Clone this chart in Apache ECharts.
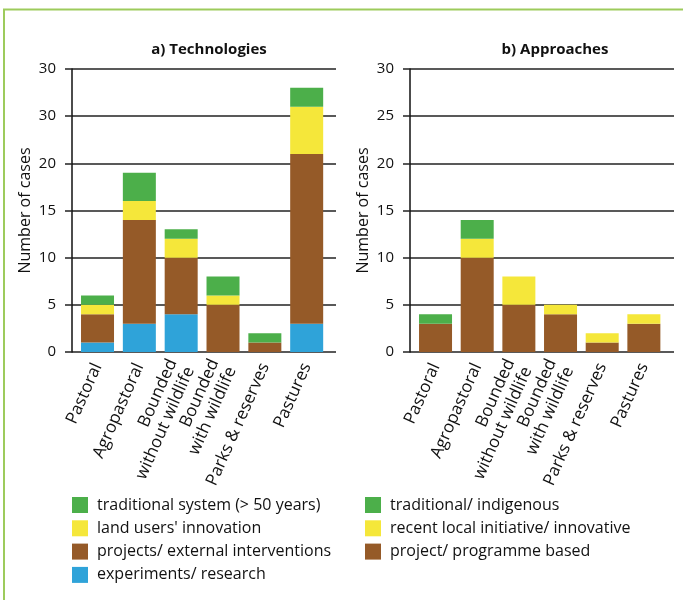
<!DOCTYPE html>
<html>
<head>
<meta charset="utf-8">
<script src="https://cdn.jsdelivr.net/npm/echarts@6/dist/echarts.min.js"></script>
<style>
  html, body { margin: 0; padding: 0; background: #fff; }
  #main { width: 683px; height: 600px; }
</style>
</head>
<body>
<div id="main"></div>
<script>
    // categories shared by both panels
    var categories = ['Pastoral', 'Agropastoral', 'Bounded\nwithout wildlife', 'Bounded\nwith wildlife', 'Parks & reserves', 'Pastures'];

    // a) Technologies - segment heights, bottom to top
    var techResearch    = [1, 3, 4, 0, 0, 3];
    var techProjects    = [3, 11, 6, 5, 1, 18];
    var techInnovation  = [1, 2, 2, 1, 0, 5];
    var techTraditional = [1, 3, 1, 2, 1, 2];

    // b) Approaches - segment heights, bottom to top
    var apprProject     = [3, 10, 5, 4, 1, 3];
    var apprInitiative  = [0, 2, 3, 1, 1, 1];
    var apprTraditional = [1, 2, 0, 0, 0, 0];

    // tick labels as printed (left panel repeats "30")
    var leftTickLabels  = ['0', '5', '10', '15', '20', '30', '30'];
    var rightTickLabels = ['0', '5', '10', '15', '20', '25', '30'];

    var GREEN = '#4caf4a', YELLOW = '#f5e73a', BROWN = '#955a28', BLUE = '#2fa3d9';
    var FONT = 'Open Sans';

    var myChart = echarts.init(document.getElementById('main'));

    function decoY(gridIndex, labels) {
        return {
            gridIndex: gridIndex,
            type: 'value',
            min: 0,
            max: 30,
            interval: 5,
            name: 'Number of cases',
            nameLocation: 'middle',
            nameGap: 39,
            nameTextStyle: {color: '#111', fontSize: 16, fontFamily: FONT},
            axisLine: {show: true, lineStyle: {color: '#111', width: 1.5}},
            axisTick: {show: true, length: 7, lineStyle: {color: '#222', width: 1.5}},
            axisLabel: {
                color: '#111', fontSize: 15, fontFamily: FONT, margin: 16,
                formatter: function (v) { return labels[Math.round(v / 5)]; }
            },
            splitLine: {show: true, lineStyle: {color: '#222', width: 1.5}}
        };
    }

    function barX(gridIndex) {
        return {
            gridIndex: gridIndex,
            type: 'category',
            data: categories,
            axisLine: {show: false},
            axisTick: {show: false},
            axisLabel: {
                rotate: 66, interval: 0, margin: 12,
                color: '#111', fontSize: 17, fontFamily: FONT, lineHeight: 19
            }
        };
    }

    function seg(name, data, color, xi, yi, stack) {
        return {
            name: name, type: 'bar', stack: stack, data: data,
            xAxisIndex: xi, yAxisIndex: yi, barWidth: 33,
            itemStyle: {color: color}
        };
    }

    var option = {
        backgroundColor: '#fff',
        animation: false,
        title: [{
            text: 'a) Technologies', left: 204, top: 37, textAlign: 'center',
            textStyle: {fontSize: 15, fontWeight: 'bold', color: '#111', fontFamily: FONT}
        }, {
            text: 'b) Approaches', left: 550, top: 37, textAlign: 'center',
            textStyle: {fontSize: 15, fontWeight: 'bold', color: '#111', fontFamily: FONT}
        }],
        legend: [{
            orient: 'vertical', left: 72, top: 497, padding: 0,
            itemWidth: 16, itemHeight: 16, itemGap: 7.3,
            icon: 'rect',
            textStyle: {fontSize: 16, color: '#111', fontFamily: FONT, padding: [0, 0, 0, 4]},
            data: ['traditional system (> 50 years)', "land users' innovation", 'projects/ external interventions', 'experiments/ research']
        }, {
            orient: 'vertical', left: 365, top: 497, padding: 0,
            itemWidth: 16, itemHeight: 16, itemGap: 7.3,
            icon: 'rect',
            textStyle: {fontSize: 16, color: '#111', fontFamily: FONT, padding: [0, 0, 0, 4]},
            data: ['traditional/ indigenous', 'recent local initiative/ innovative', 'project/ programme based']
        }],
        grid: [
            {left: 72, top: 69, width: 264, height: 283},
            {left: 76.6, top: 69, width: 251, height: 283},
            {left: 410, top: 69, width: 264, height: 283},
            {left: 414.7, top: 69, width: 250, height: 283}
        ],
        xAxis: [
            {gridIndex: 0, type: 'value', show: false},
            barX(1),
            {gridIndex: 2, type: 'value', show: false},
            barX(3)
        ],
        yAxis: [
            decoY(0, leftTickLabels),
            {gridIndex: 1, type: 'value', min: 0, max: 30, show: false},
            decoY(2, rightTickLabels),
            {gridIndex: 3, type: 'value', min: 0, max: 30, show: false}
        ],
        graphic: [{
            type: 'polyline',
            shape: {points: [[4, 620], [4, 9.5], [700, 9.5]]},
            style: {stroke: '#9dcb5c', lineWidth: 2, fill: null}
        }],
        series: [
            seg('experiments/ research', techResearch, BLUE, 1, 1, 'tech'),
            seg('projects/ external interventions', techProjects, BROWN, 1, 1, 'tech'),
            seg("land users' innovation", techInnovation, YELLOW, 1, 1, 'tech'),
            seg('traditional system (> 50 years)', techTraditional, GREEN, 1, 1, 'tech'),
            seg('project/ programme based', apprProject, BROWN, 3, 3, 'appr'),
            seg('recent local initiative/ innovative', apprInitiative, YELLOW, 3, 3, 'appr'),
            seg('traditional/ indigenous', apprTraditional, GREEN, 3, 3, 'appr')
        ]
    };

    myChart.setOption(option);
</script>
</body>
</html>
